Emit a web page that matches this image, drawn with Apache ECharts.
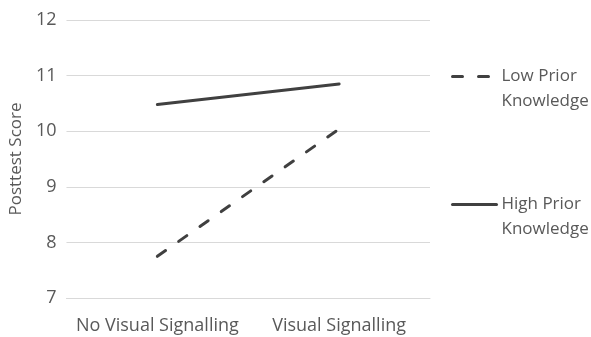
<!DOCTYPE html>
<html>
<head>
<meta charset="utf-8">
<script src="https://cdn.jsdelivr.net/npm/echarts@6/dist/echarts.min.js"></script>
<style>html,body{margin:0;padding:0;background:#fff}#c{width:591px;height:337px}</style>
</head>
<body>
<div id="c"></div>
<script>
const categories = ["No Visual Signalling", "Visual Signalling"];
const lowPrior = [7.75, 10.04];
const highPrior = [10.48, 10.85];
const seriesNames = ["Low Prior Knowledge", "High Prior Knowledge"];
const legendLabels = {"Low Prior Knowledge": ["Low Prior", "Knowledge"], "High Prior Knowledge": ["High Prior", "Knowledge"]};

const font = "'Open Sans', sans-serif";
const txt = "#595959";
const chart = echarts.init(document.getElementById('c'));
chart.setOption({
  animation: false,
  grid: {left: 62, right: 161, top: 20, bottom: 39},
  xAxis: {
    type: 'category', data: categories, boundaryGap: true,
    axisLine: {lineStyle: {color: '#d9d9d9', width: 1}},
    axisTick: {show: false},
    axisLabel: {color: txt, fontFamily: font, fontSize: 18, margin: 19, interval: 0}
  },
  yAxis: {
    type: 'value', min: 7, max: 12, interval: 1,
    name: 'Posttest Score', nameLocation: 'middle', nameGap: 33, nameRotate: 90,
    nameTextStyle: {color: txt, fontFamily: font, fontSize: 17},
    axisLine: {show: false}, axisTick: {show: false},
    axisLabel: {color: txt, fontFamily: font, fontSize: 18, margin: 10},
    splitLine: {lineStyle: {color: '#d9d9d9', width: 1}}
  },
  legend: {
    orient: 'vertical', left: 451, top: 39, padding: 0,
    itemWidth: 44, itemHeight: 12, itemGap: 53,
    data: seriesNames,
    itemStyle: {color: 'rgba(0,0,0,0)', borderWidth: 0},
    lineStyle: {width: 3, cap: 'round'},
    formatter: n => ' \n' + legendLabels[n].join('\n'),
    textStyle: {color: txt, fontFamily: font, fontSize: 17, lineHeight: 25}
  },
  series: [
    {name: seriesNames[0], type: 'line', data: lowPrior, symbol: 'none',
     lineStyle: {color: '#404040', width: 3, type: [10, 16], cap: 'round'},
     itemStyle: {color: '#404040'}},
    {name: seriesNames[1], type: 'line', data: highPrior, symbol: 'none',
     lineStyle: {color: '#404040', width: 3, cap: 'round'},
     itemStyle: {color: '#404040'}}
  ]
});
</script>
</body>
</html>
